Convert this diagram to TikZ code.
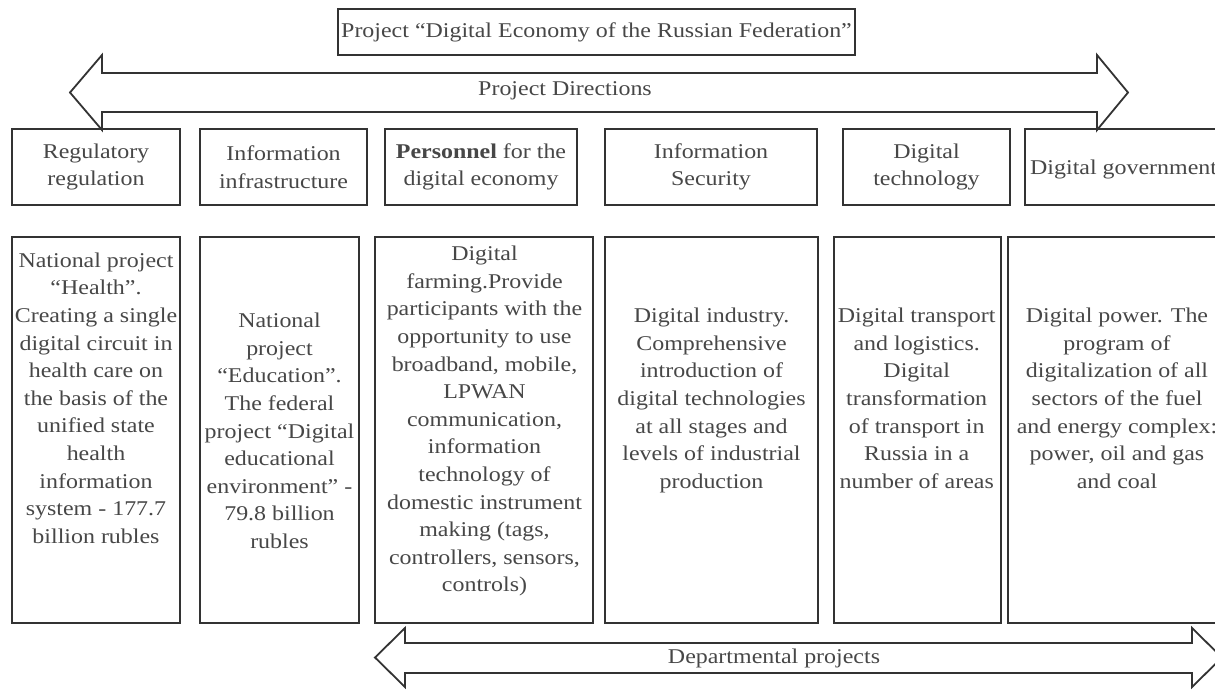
\documentclass[tikz,border=0pt]{standalone}
\usepackage{fontspec}
\setmainfont[FakeStretch=1.14]{Liberation Serif}
\begin{document}
\begin{tikzpicture}[x=1pt,y=-1pt,
  box/.style={draw=black!80, line width=1.8pt, rectangle, inner sep=0pt},
  txt/.style={text=black!72, font=\fontsize{21}{27.6}\selectfont, align=center, inner sep=0pt},
  barrow/.style={draw=black!80, line width=1.8pt, line join=miter}]
\useasboundingbox (0,0) rectangle (1215,689);
\fill[white] (0,0) rectangle (1215,689);

% title
\node[box, txt, minimum width=517pt, minimum height=46pt] (title) at (596.5,32) {Project “Digital Economy of the Russian Federation”};

% top double arrow
\draw[barrow] (70,92.5) -- (102,55) -- (102,73) -- (1097,73) -- (1097,55) -- (1128,92.5)
  -- (1097,130) -- (1097,112) -- (102,112) -- (102,130) -- cycle;
\node[txt] (dirs) at (565,91) {Project Directions};

% header boxes
\node[box, txt, minimum width=168pt, minimum height=76pt] (h1) at (96,167) {Regulatory\\regulation};
\node[box, txt, minimum width=167pt, minimum height=76pt] (h2) at (283.5,167) {Information\\infrastructure};
\node[box, txt, minimum width=192pt, minimum height=76pt] (h3) at (481,167) {\textbf{Personnel} for the\\digital economy};
\node[box, txt, minimum width=212pt, minimum height=76pt] (h4) at (711,167) {Information\\Security};
\node[box, txt, minimum width=167pt, minimum height=76pt] (h5) at (926.5,167) {Digital\\technology};
\node[box, minimum width=225pt, minimum height=76pt] (h6) at (1137.5,167) {};
\node[txt, anchor=west] (h6t) at (1030,169) {Digital government};

% lower boxes
\node[box, minimum width=168pt, minimum height=386pt] (l1) at (96,430) {};
\node[box, minimum width=159pt, minimum height=386pt] (l2) at (279.5,430) {};
\node[box, minimum width=218pt, minimum height=386pt] (l3) at (484,430) {};
\node[box, minimum width=213pt, minimum height=386pt] (l4) at (711.5,430) {};
\node[box, minimum width=167pt, minimum height=386pt] (l5) at (917.5,430) {};
\node[box, minimum width=242pt, minimum height=386pt] (l6) at (1129,430) {};

\node[txt, anchor=north] (t1) at (96,252.5) {National project\\“Health”.\\Creating a single\\digital circuit in\\health care on\\the basis of the\\unified state\\health\\information\\system - 177.7\\billion rubles};
\node[txt, anchor=north] (t2) at (279.5,313) {National\\project\\“Education”.\\The federal\\project “Digital\\educational\\environment” -\\79.8 billion\\rubles};
\node[txt, anchor=north] (t3) at (484.5,246) {Digital\\farming.Provide\\participants with the\\opportunity to use\\broadband, mobile,\\LPWAN\\communication,\\information\\technology of\\domestic instrument\\making (tags,\\controllers, sensors,\\controls)};
\node[txt, anchor=north] (t4) at (711.5,308) {Digital industry.\\Comprehensive\\introduction of\\digital technologies\\at all stages and\\levels of industrial\\production};
\node[txt, anchor=north] (t5) at (916.7,308) {Digital transport\\and logistics.\\Digital\\transformation\\of transport in\\Russia in a\\number of areas};
\node[txt, anchor=north] (t6) at (1117,308) {Digital power. The\\program of\\digitalization of all\\sectors of the fuel\\and energy complex:\\power, oil and gas\\and coal};

% bottom double arrow
\draw[barrow] (375,657.5) -- (405,628) -- (405,643) -- (1192,643) -- (1192,628) -- (1222,657.5)
  -- (1192,687) -- (1192,673) -- (405,673) -- (405,687) -- cycle;
\node[txt] (dept) at (774,658) {Departmental projects};
\end{tikzpicture}
\end{document}
